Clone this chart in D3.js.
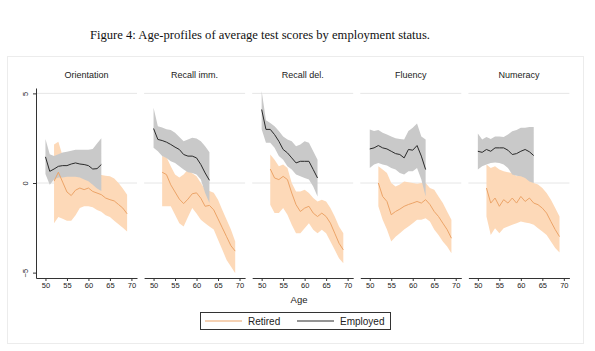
<!DOCTYPE html>
<html>
<head>
<meta charset="utf-8">
<script src="https://cdn.jsdelivr.net/npm/d3@7"></script>
<style>
  body { margin: 0; background: #fff; }
  svg { display: block; }
  text { font-family: "Liberation Sans", Arial, sans-serif; fill: #222; }
</style>
</head>
<body>
<svg width="595" height="351"></svg>
<script>
// ages
var empAges = [50, 51, 52, 53, 54, 55, 56, 57, 58, 59, 60, 61, 62, 63];
var retAges = [52, 53, 54, 55, 56, 57, 58, 59, 60, 61, 62, 63, 64, 65, 66, 67, 68, 69];

var titles = ["Orientation", "Recall imm.", "Recall del.", "Fluency", "Numeracy"];

// Orientation
var orientEmp   = [1.46, 0.65, 0.78, 0.93, 0.97, 0.97, 1.06, 1.12, 1.06, 1.03, 0.97, 0.78, 0.8, 1.03];
var orientEmpHi = [2.46, 1.6, 1.5, 1.6, 1.7, 1.75, 1.8, 1.85, 1.85, 1.85, 1.85, 1.9, 2.2, 2.5];
var orientEmpLo = [0.5, -0.1, 0.2, 0.3, 0.3, 0.35, 0.35, 0.35, 0.3, 0.2, 0.1, -0.1, -0.3, -0.45];
var orientRet   = [0.1, 0.6, 0.05, -0.5, -0.7, -0.4, -0.28, -0.37, -0.28, -0.47, -0.56, -0.65, -0.84, -0.93, -1.0, -1.2, -1.4, -1.72];
var orientRetHi = [2.15, 2.3, 1.5, 0.9, 0.75, 0.75, 0.75, 0.55, 0.55, 0.55, 0.55, 0.45, 0.4, 0.37, 0.25, 0.0, -0.3, -0.65];
var orientRetLo = [-2.24, -1.9, -2.0, -2.1, -2.1, -1.8, -1.4, -1.3, -1.3, -1.35, -1.5, -1.6, -1.8, -1.9, -2.1, -2.3, -2.5, -2.7];

// Recall immediate
var recImmEmp   = [3.04, 2.43, 2.37, 2.28, 2.15, 2.0, 1.87, 1.59, 1.5, 1.5, 1.4, 1.03, 0.56, 0.15];
var recImmEmpHi = [4.2, 3.17, 3.1, 3.0, 2.95, 2.8, 2.57, 2.33, 2.43, 2.52, 2.48, 2.33, 2.05, 1.72];
var recImmEmpLo = [1.96, 1.77, 1.5, 1.4, 1.21, 1.12, 0.93, 0.75, 0.6, 0.56, 0.47, 0.19, -0.56, -1.12];
var recImmRet   = [0.6, 0.47, -0.1, -0.5, -0.9, -1.15, -0.9, -0.6, -0.55, -0.85, -1.3, -1.25, -1.5, -2.0, -2.5, -3.0, -3.5, -3.8];
var recImmRetHi = [1.5, 1.45, 0.93, 0.47, 0.3, 0.47, 0.75, 0.55, 0.37, 0.0, -0.37, -0.45, -0.55, -0.93, -1.5, -2.05, -2.6, -3.26];
var recImmRetLo = [-1.3, -1.3, -1.3, -1.77, -2.24, -2.43, -1.9, -1.4, -1.7, -2.05, -2.24, -2.43, -2.6, -3.17, -3.73, -4.29, -4.66, -5.04];

// Recall delayed
var recDelEmp   = [4.1, 2.99, 2.99, 2.7, 2.33, 1.87, 1.68, 1.4, 1.12, 1.21, 1.21, 1.21, 0.75, 0.28];
var recDelEmpHi = [5.13, 3.5, 3.35, 3.17, 2.9, 2.6, 2.43, 2.33, 2.05, 2.15, 2.33, 2.24, 1.77, 1.3];
var recDelEmpLo = [3.0, 2.24, 2.24, 1.96, 1.5, 1.3, 0.93, 0.75, 0.47, 0.37, 0.28, 0.19, -0.19, -0.75];
var recDelRet   = [0.78, 0.28, 0.19, 0.37, 0.19, -0.56, -1.21, -1.59, -1.4, -1.3, -1.68, -1.87, -1.68, -1.87, -2.24, -2.8, -3.36, -3.73];
var recDelRetHi = [1.59, 1.3, 0.93, 1.03, 0.84, 0.0, -0.47, -0.47, -0.37, -0.56, -0.84, -1.03, -0.93, -1.03, -1.4, -1.87, -2.43, -2.8];
var recDelRetLo = [-1.21, -1.68, -1.68, -1.4, -1.77, -2.33, -2.8, -2.8, -2.52, -2.24, -2.61, -2.8, -2.61, -2.8, -3.26, -3.73, -4.2, -4.48];

// Fluency
var fluEmp   = [1.9, 1.96, 2.09, 1.96, 1.9, 1.77, 1.64, 1.59, 1.4, 1.87, 1.83, 2.09, 1.5, 0.75];
var fluEmpHi = [2.99, 2.9, 2.95, 2.8, 2.7, 2.6, 2.5, 2.45, 2.43, 2.9, 3.08, 3.32, 2.6, 2.43];
var fluEmpLo = [0.84, 1.03, 1.12, 1.03, 0.97, 0.84, 0.75, 0.56, 0.47, 0.65, 0.65, 0.84, 0.2, -0.75];
var fluRet   = [0.0, -0.75, -1.03, -1.77, -1.59, -1.46, -1.3, -1.2, -1.12, -1.03, -1.12, -0.93, -1.2, -1.59, -1.87, -2.24, -2.6, -3.08];
var fluRetHi = [0.93, 0.75, 0.56, 0.0, -0.19, -0.09, 0.09, 0.04, 0.0, -0.04, 0.0, 0.0, -0.28, -0.37, -0.75, -1.12, -1.59, -2.05];
var fluRetLo = [-1.3, -2.05, -2.6, -3.26, -3.0, -2.8, -2.6, -2.43, -2.24, -2.05, -2.05, -1.96, -2.15, -2.6, -2.9, -3.26, -3.54, -3.92];

// Numeracy
var numEmp   = [1.77, 1.71, 1.87, 1.77, 1.96, 1.96, 1.96, 1.83, 1.59, 1.64, 1.77, 1.87, 1.74, 1.53];
var numEmpHi = [2.76, 2.43, 2.57, 2.46, 2.6, 2.6, 2.57, 2.7, 2.89, 2.95, 3.08, 3.08, 3.13, 3.13];
var numEmpLo = [0.75, 0.93, 1.03, 1.12, 1.15, 1.12, 1.03, 0.84, 0.47, 0.41, 0.37, 0.28, 0.09, 0.0];
var numRet   = [-0.28, -1.12, -0.84, -1.3, -0.93, -1.12, -0.84, -1.12, -0.75, -1.03, -0.84, -1.12, -1.21, -1.4, -1.68, -2.15, -2.6, -2.99];
var numRetHi = [1.03, 0.84, 0.93, 0.75, 0.65, 0.6, 0.56, 0.37, 0.47, 0.37, 0.19, 0.0, -0.09, -0.28, -0.56, -0.93, -1.4, -1.87];
var numRetLo = [-1.87, -2.9, -2.52, -2.8, -2.52, -2.43, -2.33, -2.24, -2.15, -2.2, -2.24, -2.33, -2.52, -2.7, -2.9, -3.26, -3.63, -3.88];

var xTicks = [50, 55, 60, 65, 70];
var yTicks = [-5, 0, 5];

var panels = [
  [orientEmp, orientEmpHi, orientEmpLo, orientRet, orientRetHi, orientRetLo],
  [recImmEmp, recImmEmpHi, recImmEmpLo, recImmRet, recImmRetHi, recImmRetLo],
  [recDelEmp, recDelEmpHi, recDelEmpLo, recDelRet, recDelRetHi, recDelRetLo],
  [fluEmp, fluEmpHi, fluEmpLo, fluRet, fluRetHi, fluRetLo],
  [numEmp, numEmpHi, numEmpLo, numRet, numRetHi, numRetLo]
];

var retLine = "#eca468", retBand = "#fdd9b8", empLine = "#2a2a2a", empBand = "#c9c9c9";

var svg = d3.select("svg");

// outer frame
svg.append("rect")
    .attr("x", 7.5).attr("y", 56.5)
    .attr("width", 576).attr("height", 287)
    .attr("fill", "none").attr("stroke", "#ececec");

svg.append("text")
    .attr("x", 260).attr("y", 39)
    .attr("text-anchor", "middle")
    .style("font-family", "'Liberation Serif', 'DejaVu Serif', serif")
    .style("font-size", "12.6px")
    .style("fill", "#111")
    .text("Figure 4: Age-profiles of average test scores by employment status.");

var plotTop = 88, plotBottom = 278, pw = 101, step = 108.1, left0 = 36;

var y = d3.scaleLinear().domain([-5.3, 5.3]).range([plotBottom, plotTop]);

function series(ages, vals) {
    return ages.map(function(a, i) { return {age: a, v: vals[i]}; });
}
function band(ages, hi, lo) {
    return ages.map(function(a, i) { return {age: a, hi: hi[i], lo: lo[i]}; });
}

panels.forEach(function(p, k) {
    var L = left0 + k * step;
    var x = d3.scaleLinear().domain([47.8, 71.3]).range([L, L + pw]);
    var g = svg.append("g");

    // grid
    g.selectAll("line.grid")
        .data([0, 5])
        .enter().append("line")
        .attr("x1", L).attr("x2", L + pw)
        .attr("y1", function(d) { return y(d); })
        .attr("y2", function(d) { return y(d); })
        .attr("stroke", "#e6e6e6").attr("stroke-width", 1);

    var area = d3.area()
        .x(function(d) { return x(d.age); })
        .y0(function(d) { return y(d.lo); })
        .y1(function(d) { return y(d.hi); });
    var line = d3.line()
        .x(function(d) { return x(d.age); })
        .y(function(d) { return y(d.v); });

    g.append("path").datum(band(retAges, p[4], p[5]))
        .attr("d", area).attr("fill", retBand);
    g.append("path").datum(band(empAges, p[1], p[2]))
        .attr("d", area).attr("fill", empBand);
    g.append("path").datum(series(retAges, p[3]))
        .attr("d", line).attr("fill", "none")
        .attr("stroke", retLine).attr("stroke-width", 1);
    g.append("path").datum(series(empAges, p[0]))
        .attr("d", line).attr("fill", "none")
        .attr("stroke", empLine).attr("stroke-width", 1);

    var xa = g.append("g")
        .attr("transform", "translate(0," + plotBottom + ")")
        .call(d3.axisBottom(x).tickValues(xTicks).tickSize(3).tickPadding(2).tickSizeOuter(0));
    xa.select(".domain").attr("stroke", "#333");
    xa.selectAll(".tick line").attr("stroke", "#333");
    xa.selectAll(".tick text")
        .style("font-family", "'Liberation Sans', Arial, sans-serif")
        .style("font-size", "7.5px").attr("fill", "#444");

    g.append("text")
        .attr("x", L + pw / 2).attr("y", 78)
        .attr("text-anchor", "middle")
        .style("font-size", "9px")
        .text(titles[k]);

    if (k === 0) {
        var ya = g.append("g")
            .attr("transform", "translate(" + L + ",0)")
            .call(d3.axisLeft(y).tickValues(yTicks).tickSize(3).tickPadding(2).tickSizeOuter(0));
        ya.select(".domain").attr("stroke", "#333");
        ya.selectAll(".tick line").attr("stroke", "#333");
        ya.selectAll(".tick text")
            .attr("transform", "rotate(-90)")
            .attr("x", 0).attr("y", -8)
            .attr("dy", "0")
            .attr("text-anchor", "middle")
            .style("font-family", "'Liberation Sans', Arial, sans-serif")
            .style("font-size", "7.5px").attr("fill", "#444");
    }
});

svg.append("text")
    .attr("x", 299).attr("y", 303)
    .attr("text-anchor", "middle")
    .style("font-size", "9.5px")
    .text("Age");

// legend
var lg = svg.append("g");
lg.append("rect")
    .attr("x", 200.5).attr("y", 312.5)
    .attr("width", 190).attr("height", 17)
    .attr("fill", "#fff").attr("stroke", "#333");
var items = [
    {label: "Retired", color: retLine, x: 205},
    {label: "Employed", color: empLine, x: 297}
];
items.forEach(function(it) {
    lg.append("line")
        .attr("x1", it.x).attr("x2", it.x + 37)
        .attr("y1", 321).attr("y2", 321)
        .attr("stroke", it.color).attr("stroke-width", 1.2);
    lg.append("text")
        .attr("x", it.x + 43).attr("y", 324.5)
        .style("font-size", "10px")
        .text(it.label);
});
</script>
</body>
</html>
